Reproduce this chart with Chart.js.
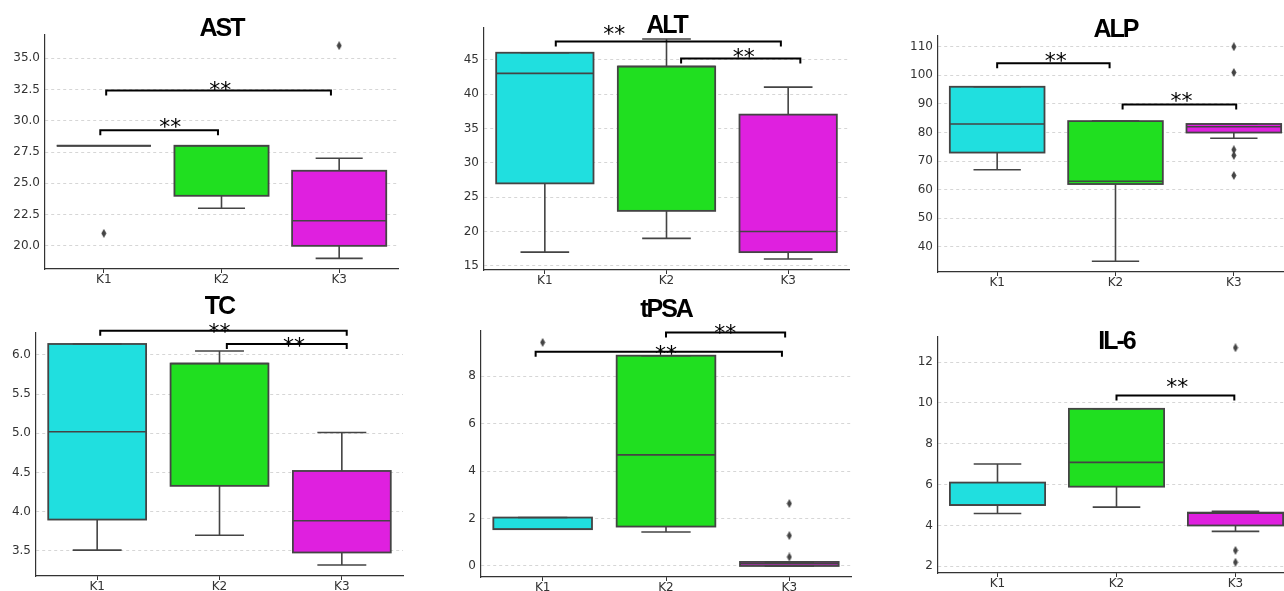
<!DOCTYPE html>
<html>
<head>
<meta charset="utf-8">
<script src="https://cdn.jsdelivr.net/npm/chart.js@4/dist/chart.umd.min.js"></script>
<style>
  html, body { margin: 0; padding: 0; background: #fff; }
  body { position: relative; width: 1284px; height: 591px; overflow: hidden; }
  .panel { position: absolute; }
</style>
</head>
<body>
<script>
'use strict';

const CATEGORIES = ['K1', 'K2', 'K3'];
const BOX_COLORS = ['#20dfdf', '#20df20', '#df20df'];

// rows per group: [low whisker, q1, median, q3, high whisker]
// brackets: [from, to, level, stars x, stars y]
const AST_STATS    = [[28, 28, 28, 28, 28], [23, 24, 28, 28, 28], [19, 20, 22, 26, 27]];
const AST_OUTLIERS = [['K1', 21], ['K3', 36]];
const AST_TICKS    = [20, 22.5, 25, 27.5, 30, 32.5, 35];
const AST_SIG      = [[-0.03, 0.97, 29.24, 0.565, 29.95], [0.02, 1.93, 32.42, 0.99, 32.95]];

const ALT_STATS    = [[17, 27, 43, 46, 46], [19, 23, 44, 44, 48], [16, 17, 20, 37, 41]];
const ALT_OUTLIERS = [];
const ALT_TICKS    = [15, 20, 25, 30, 35, 40, 45];
const ALT_SIG      = [[0.09, 1.94, 47.62, 0.57, 49.66], [1.12, 2.10, 45.15, 1.634, 46.25]];

const ALP_STATS    = [[67, 73, 83, 96, 96], [35, 62, 63, 84, 84], [78, 80, 82, 83, 83]];
const ALP_OUTLIERS = [['K3', 110], ['K3', 101], ['K3', 74], ['K3', 72], ['K3', 65]];
const ALP_TICKS    = [40, 50, 60, 70, 80, 90, 100, 110];
const ALP_SIG      = [[0.0, 0.95, 104.2, 0.495, 107.1], [1.06, 2.02, 89.8, 1.557, 93.1]];

const TC_STATS     = [[3.51, 3.90, 5.02, 6.14, 6.14], [3.70, 4.33, 5.89, 5.89, 6.05], [3.32, 3.48, 3.885, 4.52, 5.01]];
const TC_OUTLIERS  = [];
const TC_TICKS     = [3.5, 4.0, 4.5, 5.0, 5.5, 6.0];
const TC_SIG       = [[0.025, 2.04, 6.31, 1.0, 6.37], [1.06, 2.04, 6.14, 1.61, 6.19]];

const PSA_STATS    = [[1.55, 1.55, 1.55, 2.04, 2.04], [1.43, 1.66, 4.68, 8.86, 8.86], [0, 0, 0.1, 0.17, 0.17]];
const PSA_OUTLIERS = [['K1', 9.42], ['K3', 2.63], ['K3', 1.28], ['K3', 0.38]];
const PSA_TICKS    = [0, 2, 4, 6, 8];
const PSA_SIG      = [[-0.057, 1.94, 9.03, 1.0, 9.17], [1.0, 1.966, 9.84, 1.48, 10.08]];

const IL6_STATS    = [[4.59, 5.0, 5.0, 6.10, 7.01], [4.90, 5.90, 7.09, 9.71, 9.71], [3.71, 4.0, 4.6, 4.63, 4.69]];
const IL6_OUTLIERS = [['K3', 12.7], ['K3', 2.78], ['K3', 2.2]];
const IL6_TICKS    = [2, 4, 6, 8, 10, 12];
const IL6_SIG      = [[1.0, 1.99, 10.36, 1.51, 11.07]];

const PANELS = [
  { title: 'AST',  stats: AST_STATS, outliers: AST_OUTLIERS, ticks: AST_TICKS, sig: AST_SIG, range: [18.15, 36.85], decimals: 1,
    box: { left: 44.5, right: 398, top: 35, bottom: 269 }, titleY: 36 },
  { title: 'ALT',  stats: ALT_STATS, outliers: ALT_OUTLIERS, ticks: ALT_TICKS, sig: ALT_SIG, range: [14.4, 49.6], decimals: 0,
    box: { left: 484, right: 849, top: 28, bottom: 270 }, titleY: 33 },
  { title: 'ALP',  stats: ALP_STATS, outliers: ALP_OUTLIERS, ticks: ALP_TICKS, sig: ALP_SIG, range: [31.25, 113.75], decimals: 0,
    box: { left: 938, right: 1293, top: 36, bottom: 272 }, titleY: 37 },
  { title: 'TC',   stats: TC_STATS, outliers: TC_OUTLIERS, ticks: TC_TICKS, sig: TC_SIG, range: [3.18, 6.28], decimals: 1,
    box: { left: 36, right: 403, top: 333, bottom: 576 }, titleY: 314 },
  { title: 'tPSA', stats: PSA_STATS, outliers: PSA_OUTLIERS, ticks: PSA_TICKS, sig: PSA_SIG, range: [-0.465, 9.9], decimals: 0,
    box: { left: 481, right: 851, top: 331, bottom: 577 }, titleY: 317 },
  { title: 'IL-6', stats: IL6_STATS, outliers: IL6_OUTLIERS, ticks: IL6_TICKS, sig: IL6_SIG, range: [1.675, 13.225], decimals: 0,
    box: { left: 938, right: 1295, top: 337, bottom: 573 }, titleY: 349 },
];

const EDGE = '#444444';
const AXIS = '#333333';
const TEXT = '#333333';
const PAD  = 60;   // room above the plot for title and brackets
const XAX  = 30;   // x axis height
const RPAD = 10;

Chart.defaults.font.family = '"DejaVu Sans", sans-serif';
Chart.defaults.font.size = 12;
Chart.defaults.color = TEXT;

function makeDiamond() {
  const c = document.createElement('canvas');
  c.width = 6;
  c.height = 9;
  const g = c.getContext('2d');
  g.fillStyle = EDGE;
  g.beginPath();
  g.moveTo(3, 0);
  g.lineTo(5.5, 4.5);
  g.lineTo(3, 9);
  g.lineTo(0.5, 4.5);
  g.closePath();
  g.fill();
  return c;
}

const DIAMOND = makeDiamond();

function decorPlugin(p, originY) {
  return {
    id: 'boxDecor',
    afterDatasetsDraw(chart) {
      const { ctx, scales: { x, y } } = chart;
      ctx.save();
      ctx.strokeStyle = EDGE;
      ctx.lineWidth = 1.6;
      p.stats.forEach(([lo, q1, med, q3, hi], i) => {
        const cx   = x.getPixelForValue(i);
        const cap  = x.getPixelForValue(i + 0.2) - cx;
        const half = x.getPixelForValue(i + 0.4) - cx;
        const yq1  = y.getPixelForValue(q1);
        const yq3  = y.getPixelForValue(q3);
        ctx.beginPath();
        ctx.moveTo(cx, yq1);
        ctx.lineTo(cx, y.getPixelForValue(lo));
        ctx.moveTo(cx, yq3);
        ctx.lineTo(cx, y.getPixelForValue(hi));
        ctx.moveTo(cx - cap, y.getPixelForValue(lo));
        ctx.lineTo(cx + cap, y.getPixelForValue(lo));
        ctx.moveTo(cx - cap, y.getPixelForValue(hi));
        ctx.lineTo(cx + cap, y.getPixelForValue(hi));
        ctx.moveTo(cx - half, y.getPixelForValue(med));
        ctx.lineTo(cx + half, y.getPixelForValue(med));
        ctx.stroke();
        ctx.lineWidth = 1.8;
        ctx.strokeRect(cx - half, yq3, 2 * half, yq1 - yq3);
        ctx.lineWidth = 1.6;
      });
      ctx.restore();
    },
    afterDraw(chart) {
      const { ctx, chartArea, scales: { x, y } } = chart;
      ctx.save();
      ctx.strokeStyle = '#000';
      ctx.fillStyle = '#000';
      ctx.lineWidth = 2;
      ctx.font = '22px "DejaVu Sans"';
      ctx.textAlign = 'center';
      ctx.textBaseline = 'alphabetic';
      for (const [from, to, level, sx, sy] of p.sig) {
        const x1 = x.getPixelForValue(from);
        const x2 = x.getPixelForValue(to);
        const yl = y.getPixelForValue(level);
        ctx.beginPath();
        ctx.moveTo(x1, yl + 5);
        ctx.lineTo(x1, yl);
        ctx.lineTo(x2, yl);
        ctx.lineTo(x2, yl + 5);
        ctx.stroke();
        ctx.fillText('**', x.getPixelForValue(sx), y.getPixelForValue(sy) + 13);
      }
      ctx.font = 'bold 25px "Liberation Sans", Arial, sans-serif';
      ctx.letterSpacing = '-2px';
      ctx.fillText(p.title, (chartArea.left + chartArea.right) / 2, p.titleY - originY);
      ctx.restore();
    },
  };
}

function buildPanel(p) {
  const L = Math.round(p.box.left);
  const T = Math.round(p.box.top);
  const W = Math.round(p.box.right) - L;
  const H = Math.round(p.box.bottom) - T;

  const wrap = document.createElement('div');
  wrap.className = 'panel';
  wrap.style.left   = (L - PAD) + 'px';
  wrap.style.top    = (T - PAD) + 'px';
  wrap.style.width  = (W + PAD + RPAD) + 'px';
  wrap.style.height = (H + PAD + XAX) + 'px';
  const canvas = document.createElement('canvas');
  wrap.appendChild(canvas);
  document.body.appendChild(wrap);

  new Chart(canvas, {
    data: {
      labels: CATEGORIES,
      datasets: [
        {
          type: 'bar',
          data: p.stats.map(s => [s[1], s[3]]),
          backgroundColor: BOX_COLORS,
          borderWidth: 0,
          barPercentage: 0.8,
          categoryPercentage: 1,
          order: 2,
        },
        {
          type: 'line',
          data: p.outliers.map(([cat, v]) => ({ x: cat, y: v })),
          showLine: false,
          pointStyle: DIAMOND,
          order: 1,
        },
      ],
    },
    options: {
      responsive: true,
      maintainAspectRatio: false,
      animation: false,
      events: [],
      layout: { padding: { top: PAD, right: RPAD, left: 0, bottom: 0 } },
      plugins: {
        legend:  { display: false },
        tooltip: { enabled: false },
        title:   { display: false },
      },
      scales: {
        x: {
          type: 'category',
          offset: true,
          grid:   { display: true, offset: false, drawOnChartArea: false, drawTicks: true, tickLength: 4, color: AXIS },
          border: { display: true, color: AXIS, width: 1.2 },
          ticks:  { padding: 0, color: TEXT, maxRotation: 0 },
          afterFit: s => { s.height = XAX; },
        },
        y: {
          type: 'linear',
          min: p.range[0],
          max: p.range[1],
          afterBuildTicks: s => { s.ticks = p.ticks.map(v => ({ value: v })); },
          ticks:  { padding: 5, color: TEXT, callback: v => Number(v).toFixed(p.decimals) },
          grid:   { color: '#cccccc', lineWidth: 0.8, drawTicks: false },
          border: { display: true, color: AXIS, width: 1.2, dash: [3, 3] },
          afterFit: s => { s.width = PAD; },
        },
      },
    },
    plugins: [decorPlugin(p, T - PAD)],
  });
}

PANELS.forEach(buildPanel);
</script>
</body>
</html>
